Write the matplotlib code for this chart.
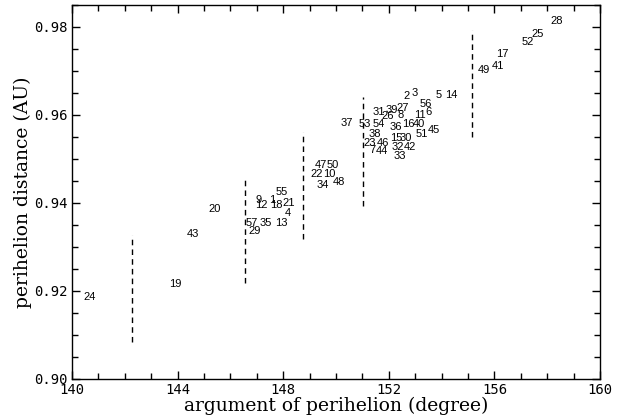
import matplotlib
matplotlib.use("Agg")
import matplotlib.pyplot as plt
from matplotlib.ticker import MultipleLocator, FormatStrFormatter

# ---- data: object labels with (argument of perihelion, perihelion distance) ----
labels = ["28", "25", "52", "17", "41", "49",
          "2", "3", "5", "14", "56", "31", "39", "27", "26", "8", "11", "6",
          "53", "54", "36", "16", "40", "45", "38", "15", "30", "51",
          "23", "46", "32", "42", "7", "44", "33", "37",
          "47", "50", "22", "10", "34", "48",
          "55", "9", "1", "12", "18", "21", "4", "57", "35", "13", "29",
          "20", "43", "19", "24"]
omega = [158.35, 157.64, 157.25, 156.31, 156.12, 155.60,
         152.68, 152.97, 153.90, 154.38, 153.40, 151.64, 152.13, 152.53, 151.94, 152.45, 153.16, 153.50,
         151.10, 151.60, 152.27, 152.74, 153.14, 153.71, 151.48, 152.27, 152.64, 153.25,
         151.29, 151.77, 152.36, 152.80, 151.38, 151.73, 152.40, 150.40,
         149.42, 149.88, 149.27, 149.75, 149.50, 150.13,
         147.94, 147.06, 147.59, 147.19, 147.75, 148.19, 148.19, 146.81, 147.35, 147.94, 146.93,
         145.42, 144.57, 143.90, 140.68]
q = [0.9812, 0.9784, 0.9766, 0.9737, 0.9710, 0.9701,
     0.9643, 0.9648, 0.9644, 0.9644, 0.9625, 0.9605, 0.9610, 0.9615, 0.9597, 0.9599, 0.9599, 0.9605,
     0.9578, 0.9578, 0.9572, 0.9578, 0.9578, 0.9566, 0.9557, 0.9547, 0.9547, 0.9557,
     0.9536, 0.9536, 0.9527, 0.9527, 0.9519, 0.9518, 0.9506, 0.9580,
     0.9485, 0.9485, 0.9465, 0.9465, 0.9440, 0.9446,
     0.9425, 0.9407, 0.9407, 0.9396, 0.9396, 0.9400, 0.9377, 0.9354, 0.9354, 0.9354, 0.9335,
     0.9385, 0.9328, 0.9216, 0.9186]

# dashed separators: x position, y bottom, y top
sep_x = [142.26, 146.55, 148.74, 151.01, 155.15]
sep_lo = [0.9085, 0.9218, 0.9318, 0.9393, 0.9549]
sep_hi = [0.9327, 0.9458, 0.9560, 0.9639, 0.9793]

xticks = [140, 144, 148, 152, 156, 160]
yticks = [0.90, 0.92, 0.94, 0.96, 0.98]

fig = plt.figure(figsize=(6.22, 4.18), dpi=100)
ax = fig.add_axes([72/622, (418-379)/418, (600-72)/622, (379-4.5)/418])

for lab, xv, yv in zip(labels, omega, q):
    ax.text(xv, yv, lab, ha="center", va="center", fontsize=8,
            family="Liberation Sans", color="black")

for xv, lo, hi in zip(sep_x, sep_lo, sep_hi):
    ax.plot([xv, xv], [lo, hi], color="black", lw=1.0, linestyle=(0, (4, 3)))

ax.set_xlim(140, 160)
ax.set_ylim(0.90, 0.985)
ax.set_xticks(xticks)
ax.set_yticks(yticks)
ax.xaxis.set_minor_locator(MultipleLocator(1))
ax.yaxis.set_minor_locator(MultipleLocator(0.005))
ax.yaxis.set_major_formatter(FormatStrFormatter("%.2f"))
ax.tick_params(which="both", direction="in", top=True, right=True, width=1.0)
ax.tick_params(which="major", length=6, pad=3, labelsize=10)
ax.tick_params(which="minor", length=4)
for lab in ax.get_xticklabels() + ax.get_yticklabels():
    lab.set_family("DejaVu Sans Mono")
for sp in ax.spines.values():
    sp.set_linewidth(1.0)

ax.set_xlabel("argument of perihelion (degree)", family="DejaVu Serif", fontsize=13.5, labelpad=0)
ax.set_ylabel("perihelion distance (AU)", family="DejaVu Serif", fontsize=13.5, labelpad=2)

fig.savefig("out.png", dpi=100)
